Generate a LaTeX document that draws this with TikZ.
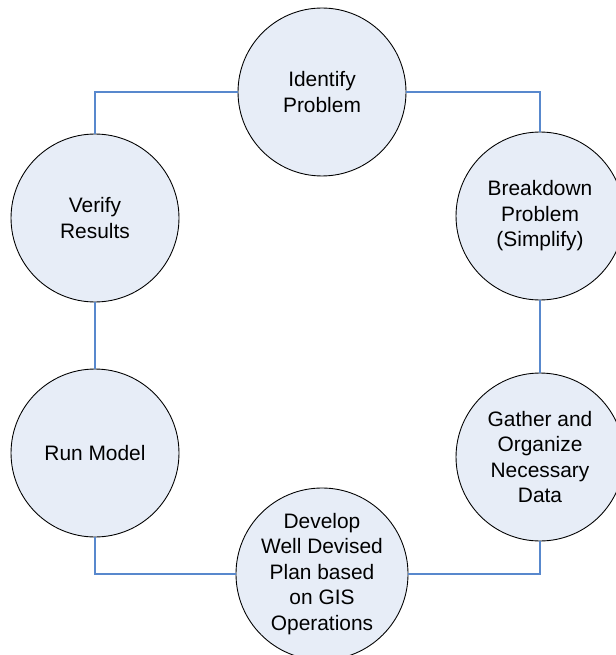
\documentclass[tikz,border=0pt]{standalone}
\usepackage{fontspec}
\setmainfont{Liberation Sans}
\usetikzlibrary{positioning}
\definecolor{linkblue}{RGB}{88,136,205}
\definecolor{stepfill}{RGB}{231,237,247}

\tikzset{
    stepcircle/.style={circle, draw=black, fill=stepfill, line width=0.5pt,
        minimum size=3.36cm, inner sep=0pt, align=center,
        font=\fontsize{11.9}{14.5}\selectfont},
    link/.style={linkblue, line width=0.6pt}
}

\begin{document}
\begin{tikzpicture}[x=0.02cm, y=-0.02cm]
    \useasboundingbox (0,0) rectangle (615,655);

    % Steps of the cycle
    \node[stepcircle] (identify)  at (322,92)  {Identify\\Problem};
    \node[stepcircle] (breakdown) at (540,216) {Breakdown\\Problem\\(Simplify)};
    \node[stepcircle] (gather)    at (540,457) {Gather and\\Organize\\Necessary\\Data};
    \node[stepcircle] (develop)   at (322,574) {Develop\\Well Devised\\Plan based\\on GIS\\Operations};
    \node[stepcircle] (runmodel)  at (95,453)  {Run Model};
    \node[stepcircle] (verify)    at (95,218)  {Verify\\Results};

    % Connectors
    \draw[link] (identify) -| (breakdown);
    \draw[link] (breakdown) -- (gather);
    \draw[link] (gather) |- (develop);
    \draw[link] (develop) -| (runmodel);
    \draw[link] (runmodel) -- (verify);
    \draw[link] (verify) |- (identify);
\end{tikzpicture}
\end{document}
